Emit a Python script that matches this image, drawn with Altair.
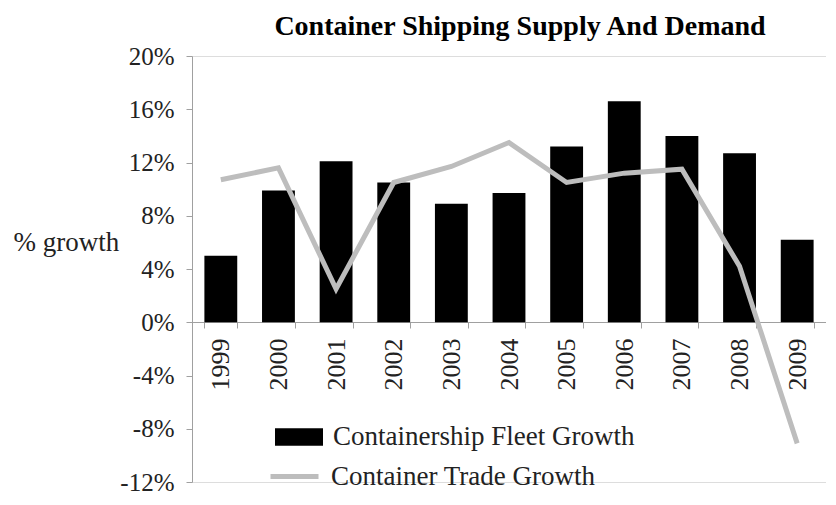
import altair as alt
import pandas as pd

years = ["1999", "2000", "2001", "2002", "2003", "2004", "2005", "2006", "2007", "2008", "2009"]
fleet_growth = [5.0, 9.9, 12.1, 10.5, 8.9, 9.7, 13.2, 16.6, 14.0, 12.7, 6.2]
trade_growth = [10.7, 11.6, 2.5, 10.5, 11.7, 13.5, 10.5, 11.2, 11.5, 4.2, -9.1]
y_ticks = [-12, -8, -4, 0, 4, 8, 12, 16, 20]

FLEET = "Containership Fleet Growth"
TRADE = "Container Trade Growth"
FONT = "Liberation Serif"
TEXT = "#222222"
AXIS = "#a0a0a0"

df = pd.DataFrame({"year": years, "fleet": fleet_growth, "trade": trade_growth})

x_enc = alt.X(
    "year:N",
    sort=years,
    title=None,
    scale=alt.Scale(paddingInner=0.43, paddingOuter=0.215),
    axis=alt.Axis(
        labelAngle=270,
        labelFont=FONT,
        labelFontSize=26,
        labelColor=TEXT,
        labelPadding=10,
        tickBand="extent",
        tickSize=6,
        tickColor=AXIS,
        domainColor=AXIS,
        offset=-160,
        grid=False,
    ),
)

y_scale = alt.Scale(domain=[-12, 20], nice=False, zero=False)

bars = alt.Chart(df).mark_bar(color="black").encode(
    x=x_enc,
    y=alt.Y(
        "fleet:Q",
        scale=y_scale,
        title="% growth",
        axis=alt.Axis(
            values=y_ticks,
            labelExpr="datum.value + '%'",
            labelFont=FONT,
            labelFontSize=25,
            labelColor=TEXT,
            labelPadding=12,
            tickSize=6,
            tickColor=AXIS,
            domainColor=AXIS,
            grid=False,
            titleAngle=0,
            titleAlign="left",
            titleBaseline="middle",
            titleX=-179,
            titleY=186,
            titleFont=FONT,
            titleFontSize=27,
            titleFontWeight="normal",
            titleColor=TEXT,
        ),
    ),
    color=alt.Color(
        "s:N",
        scale=alt.Scale(domain=[FLEET], range=["black"]),
        legend=alt.Legend(
            title=None,
            orient="none",
            legendX=83,
            legendY=357,
            symbolType="M-1,-0.36H1V0.36H-1Z",
            symbolSize=2304,
            symbolStrokeWidth=0,
            labelFont=FONT,
            labelFontSize=27,
            labelColor=TEXT,
            labelOffset=10,
            labelLimit=600,
            padding=0,
        ),
    ),
).transform_calculate(s=f"'{FLEET}'")

line = alt.Chart(df).mark_line(color="#bdbdbd", strokeWidth=5).encode(
    x=alt.X("year:N", sort=years),
    y=alt.Y("trade:Q", scale=y_scale),
    stroke=alt.Stroke(
        "s:N",
        scale=alt.Scale(domain=[TRADE], range=["#bdbdbd"]),
        legend=alt.Legend(
            title=None,
            orient="none",
            legendX=76,
            legendY=394,
            symbolType="stroke",
            symbolSize=2304,
            symbolStrokeWidth=5,
            labelFont=FONT,
            labelFontSize=27,
            labelColor=TEXT,
            labelOffset=10,
            labelLimit=600,
            padding=0,
        ),
    ),
).transform_calculate(s=f"'{TRADE}'")

chart = (
    alt.layer(bars, line)
    .properties(
        width=634,
        height=426,
        padding={"left": 5, "top": 5, "right": 0, "bottom": 0},
        title=alt.TitleParams(
            "Container Shipping Supply And Demand",
            font=FONT,
            fontSize=28,
            fontWeight="bold",
            color="black",
            anchor="middle",
            frame="group",
            offset=3,
            dx=11,
        ),
    )
    .configure_view(stroke=None)
    .configure(background="white")
)

chart.save("out.html", embed_options={"renderer": "svg", "actions": False})
